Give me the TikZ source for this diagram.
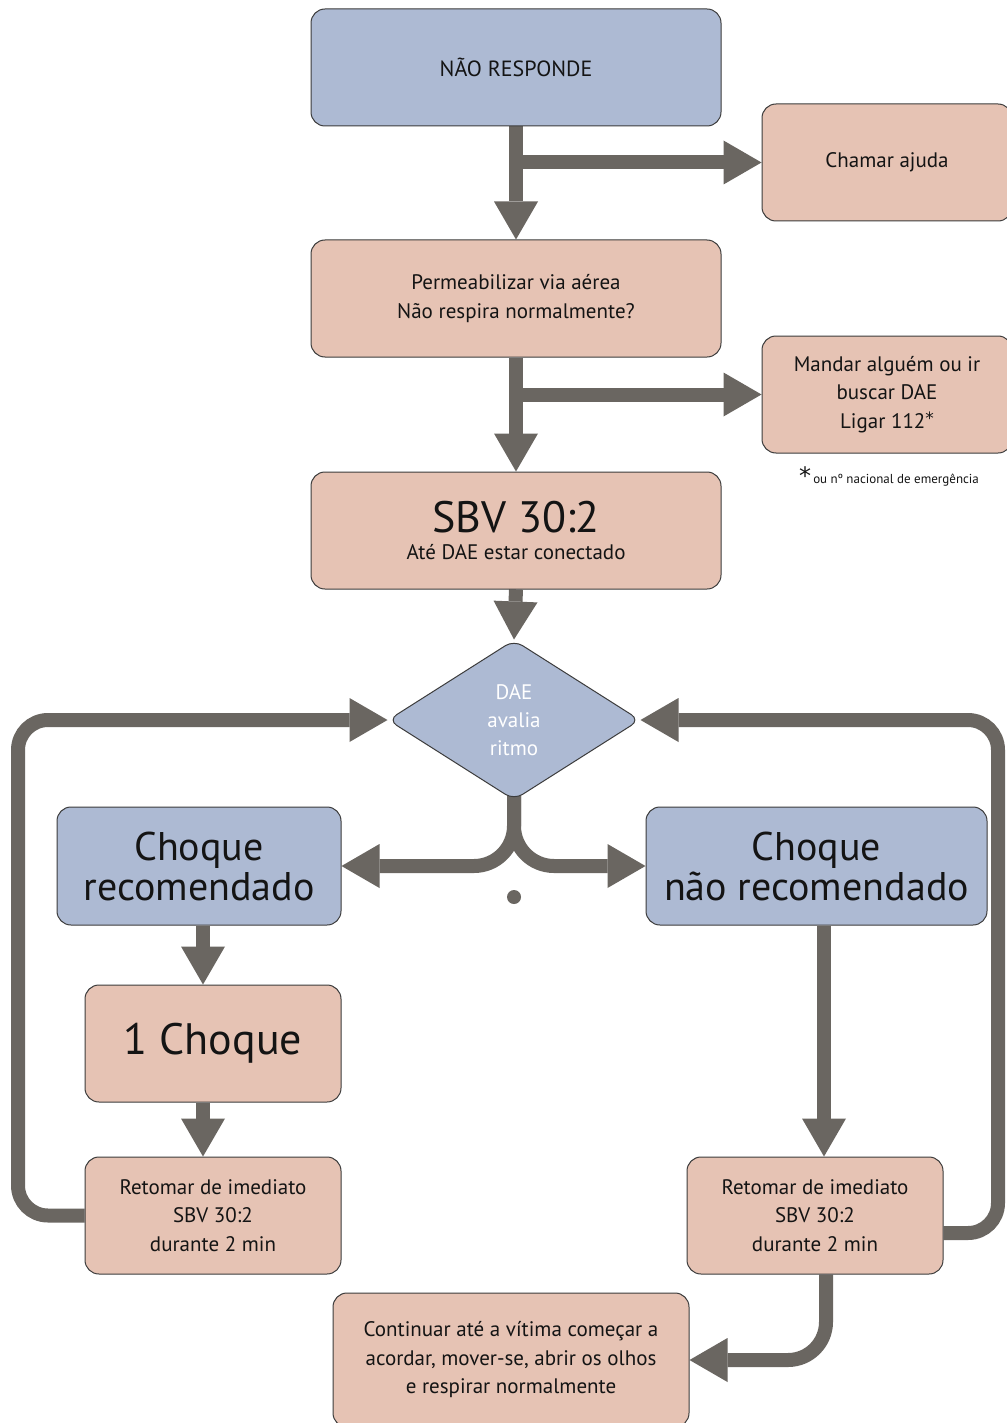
\documentclass[tikz,border=0pt]{standalone}
\usepackage{fontspec}
\setmainfont{PT Sans}
\newfontfamily\starfont{DejaVu Sans}
\usetikzlibrary{arrows.meta,shapes.geometric}
\definecolor{bluec}{HTML}{ADBAD3}
\definecolor{peachc}{HTML}{E6C3B4}
\definecolor{arrowc}{HTML}{6A6661}
\definecolor{bordc}{HTML}{3C3C3C}
\definecolor{inkc}{HTML}{141414}
\pgfdeclarelayer{bg}
\pgfsetlayers{bg,main}
\tikzset{
  box/.style={draw=bordc, line width=1pt, rounded corners=14pt, inner sep=0pt, align=center, text=inkc},
  bluebox/.style={box, fill=bluec},
  peachbox/.style={box, fill=peachc},
  txt/.style={font=\fontsize{21}{28.5}\selectfont},
  bigtxt/.style={font=\fontsize{40}{40}\selectfont},
  conn/.style={draw=arrowc, line width=14pt},
  arr/.style={conn, -{Triangle[length=38pt,width=44pt,line width=0pt]}},
}
\begin{document}
\begin{tikzpicture}[x=1pt,y=-1pt]
\begin{pgfonlayer}{bg}
\fill[white] (0,0) rectangle (1006,1423);
\end{pgfonlayer}
\useasboundingbox (0,0) rectangle (1006,1423);

% boxes
\node[bluebox, font=\fontsize{22}{28}\selectfont, minimum width=410pt, minimum height=117pt] (resp) at (516,67.5) {NÃO RESPONDE};
\node[peachbox, txt, minimum width=250pt, minimum height=117pt] (ajuda) at (887,162.5) {Chamar ajuda};
\node[peachbox, txt, minimum width=410pt, minimum height=117pt] (perm) at (516,298.5) {Permeabilizar via aérea\\Não respira normalmente?};
\node[peachbox, txt, minimum width=250pt, minimum height=117pt] (dae) at (887,394.5) {Mandar alguém ou ir\\buscar DAE\\Ligar 112\raisebox{4pt}{\starfont\fontsize{17}{17}\selectfont *}};
\node[inner sep=0pt, text=inkc, font=\fontsize{13}{15}\selectfont] (nota) at (889,476) {\raisebox{-1pt}{\starfont\fontsize{24}{24}\selectfont *}\,ou nº nacional de emergência};
\node[peachbox, txt, minimum width=410pt, minimum height=117pt] (sbv) at (516,530.5) {{\fontsize{44}{44}\selectfont SBV 30:2}\\[-1.5pt]Até DAE estar conectado};
\node[diamond, draw=bordc, line width=1pt, fill=bluec, rounded corners=10pt, minimum width=252pt, minimum height=160pt, inner sep=0pt, align=center, text=white, font=\fontsize{21}{28}\selectfont] (aval) at (514,720) {DAE\\avalia\\ritmo};
\node[bluebox, bigtxt, minimum width=284pt, minimum height=118pt] (sim) at (199,866) {Choque\\recomendado};
\node[bluebox, bigtxt, minimum width=341pt, minimum height=118pt] (nao) at (816.5,866) {Choque\\não recomendado};
\node[circle, fill=arrowc, minimum size=14pt, inner sep=0pt] (ponto) at (514,897) {};
\node[peachbox, font=\fontsize{44}{44}\selectfont, minimum width=256pt, minimum height=117pt] (um) at (213,1043.5) {1 Choque};
\node[peachbox, txt, minimum width=256pt, minimum height=117pt] (retl) at (213,1215.5) {Retomar de imediato\\SBV 30:2\\durante 2 min};
\node[peachbox, txt, minimum width=256pt, minimum height=117pt] (retr) at (815,1215.5) {Retomar de imediato\\SBV 30:2\\durante 2 min};
\node[peachbox, txt, minimum width=356pt, minimum height=134pt] (cont) at (511,1360) {Continuar até a vítima começar a\\acordar, mover-se, abrir os olhos\\e respirar normalmente};

\coordinate (lx) at (18,720);
\coordinate (rx) at (998,720);

% connectors
\begin{pgfonlayer}{bg}
\draw[arr] (resp.south) -- (perm.north);
\draw[arr] (resp.south |- ajuda.west) -- (ajuda.west);
\draw[arr] (perm.south) -- (sbv.north);
\draw[arr] (perm.south |- dae.west) -- (dae.west);
\draw[arr] (sbv.south) -- (aval.north);
\draw[arr, rounded corners=40pt] (aval.center) |- (sim.east);
\draw[arr, rounded corners=40pt] (aval.center) |- (nao.west);
\draw[arr] ([xshift=4pt]sim.south) -- ([xshift=-10pt]um.north);
\draw[arr] ([xshift=-10pt]um.south) -- ([xshift=-10pt]retl.north);
\draw[arr] ([xshift=7.5pt]nao.south) -- ([xshift=9pt]retr.north);
\draw[arr, rounded corners=38pt] ([xshift=11pt]retr.south) |- (cont.east);
\draw[arr, rounded corners=30pt] (retl.west) -| (lx) -- (aval.west);
\draw[arr, rounded corners=30pt] ([yshift=-17.5pt]retr.east) -| (rx) -- (aval.east);
\end{pgfonlayer}
\end{tikzpicture}
\end{document}
